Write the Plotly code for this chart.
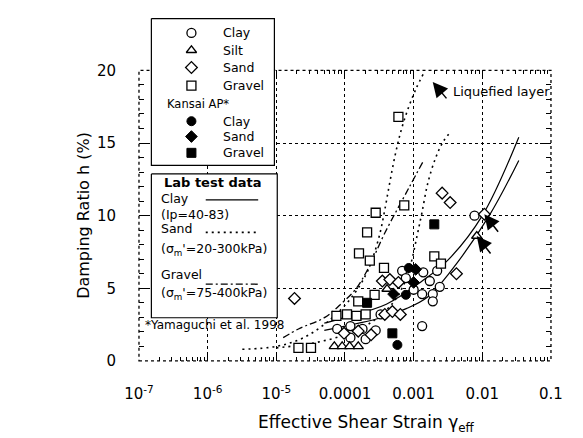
import math
import plotly.graph_objects as go

FONT = "DejaVu Sans, Arial, sans-serif"
W, H = 583, 438

# ---- field data: effective shear strain (-) and damping ratio h (%) ----
clay_strain = [7.7e-3, 1.33e-3, 6.8e-4, 7.7e-4, 1.38e-3, 1.0e-3, 1.33e-3, 1.9e-3, 2.4e-3,
               1.9e-3, 1.72e-3, 2.2e-3, 3.3e-4, 7.7e-5, 1.2e-4, 1.8e-4, 2.8e-4, 1.2e-4, 2.0e-4]
clay_damping = [10.0, 2.4, 6.2, 5.7, 6.1, 4.9, 4.6, 4.6, 5.1,
                4.1, 5.5, 6.2, 3.2, 2.2, 2.4, 2.2, 2.1, 1.6, 1.5]

silt_strain = [7.0e-5, 9.1e-5, 1.17e-4, 1.56e-4, 4.1e-4, 8.3e-3]
silt_damping = [1.0, 1.0, 1.0, 1.0, 4.95, 8.6]

sand_strain = [1.84e-5, 2.6e-3, 3.4e-3, 3.5e-4, 4.5e-4, 6.0e-4, 3.8e-4, 4.9e-4, 6.4e-4,
               4.2e-3, 9.7e-5, 1.56e-4, 2.4e-4, 1.07e-2]
sand_damping = [4.3, 11.55, 10.9, 5.5, 5.6, 5.4, 3.2, 3.4, 3.2,
                6.0, 1.9, 2.05, 1.8, 10.1]

gravel_strain = [6.0e-4, 7.3e-4, 2.8e-4, 2.1e-4, 1.6e-4, 2.3e-4, 3.7e-4, 2.7e-4, 1.56e-4,
                 7.5e-5, 1.07e-4, 1.47e-4, 2.0e-4, 2.1e-5, 3.2e-5, 2.0e-3, 2.5e-3]
gravel_damping = [16.8, 10.7, 10.2, 8.85, 7.4, 6.9, 6.4, 4.55, 4.1,
                  3.1, 3.2, 3.1, 3.2, 0.9, 0.9, 7.2, 6.7]

kansai_clay_strain = [5.8e-4, 7.7e-4, 8.5e-4]
kansai_clay_damping = [1.1, 4.55, 6.4]
kansai_sand_strain = [5.1e-4, 1.07e-3, 1.0e-3]
kansai_sand_damping = [4.6, 6.3, 5.4]
kansai_gravel_strain = [2.0e-3, 2.1e-4, 4.9e-4]
kansai_gravel_damping = [9.4, 4.0, 1.9]

# samples from the liquefied layer (marked with arrows)
liquefied_strain = [sand_strain[-1], silt_strain[-1]]
liquefied_damping = [sand_damping[-1], silt_damping[-1]]

# ---- laboratory test curves (Yamaguchi et al. 1998) ----
clay_lab_a_strain = [5e-5, 1e-4, 4e-4, 1.33e-3, 3.1e-3, 1e-2, 3.4e-2]
clay_lab_a_damping = [2.6, 3.0, 3.9, 5.5, 6.9, 10.0, 15.4]
clay_lab_b_strain = [5e-5, 1e-4, 2.95e-4, 7.8e-4, 1.6e-3, 3.5e-3, 1.26e-2, 3.4e-2]
clay_lab_b_damping = [2.1, 2.4, 2.9, 3.6, 4.4, 6.2, 10.0, 13.8]

sand_lab_a_strain = [3.2e-6, 1e-5, 2.5e-5, 6.3e-5, 1.26e-4, 2.0e-4, 2.5e-4, 3.2e-4,
                     3.8e-4, 4.5e-4, 5.4e-4, 6.6e-4, 8.5e-4, 1.1e-3, 1.4e-3]
sand_lab_a_damping = [0.8, 1.0, 1.6, 2.9, 4.4, 5.9, 7.0, 8.7,
                      10.4, 12.3, 14.2, 15.9, 17.5, 18.8, 19.8]
sand_lab_b_strain = [1e-5, 3.2e-5, 1e-4, 2.5e-4, 5e-4, 7.1e-4, 8.9e-4, 1.12e-3,
                     1.32e-3, 1.62e-3, 2.1e-3, 2.7e-3, 3.5e-3]
sand_lab_b_damping = [0.9, 1.2, 1.8, 2.7, 4.0, 5.2, 6.5, 8.6,
                      10.2, 12.3, 14.0, 15.1, 15.8]

gravel_lab_strain = [1.26e-5, 2.1e-5, 5.1e-5, 9.1e-5, 1.41e-4, 2.2e-4, 3.8e-4, 8.5e-4, 1.4e-3]
gravel_lab_damping = [1.6, 2.2, 3.0, 4.0, 4.9, 6.4, 8.8, 11.9, 13.8]

x_tick_vals = [1e-7, 1e-6, 1e-5, 1e-4, 1e-3, 1e-2, 1e-1]
x_tick_text = ["10<sup>-7</sup>", "10<sup>-6</sup>", "10<sup>-5</sup>",
               "0.0001", "0.001", "0.01", "0.1"]
y_tick_vals = [0, 5, 10, 15, 20]

# plot area in page pixels
PL, PR, PT, PB = 130, 562, 64, 367

SOLID = dict(dash="solid", width=1.2)
DOTTED = dict(dash="2px,4px", width=1.6)
DASHDOT = dict(dash="7px,3px,2px,3px", width=1.3)

fig = go.Figure()

def curve(xs, ys, style):
    fig.add_trace(go.Scatter(x=xs, y=ys, mode="lines", line_shape="spline",
                             line=dict(color="black", **style),
                             hoverinfo="skip", showlegend=False, xaxis="x", yaxis="y"))

curve(clay_lab_a_strain, clay_lab_a_damping, SOLID)
curve(clay_lab_b_strain, clay_lab_b_damping, SOLID)
curve(sand_lab_a_strain, sand_lab_a_damping, DOTTED)
curve(sand_lab_b_strain, sand_lab_b_damping, DOTTED)
curve(gravel_lab_strain, gravel_lab_damping, DASHDOT)

OPEN = dict(size=9, color="white", line=dict(color="black", width=1.3))
FILLED = dict(size=9, color="black", line=dict(color="black", width=1))

series = [
    (clay_strain, clay_damping, "circle", OPEN),
    (silt_strain, silt_damping, "triangle-up", OPEN),
    (sand_strain, sand_damping, "diamond", OPEN),
    (gravel_strain, gravel_damping, "square", OPEN),
    (kansai_clay_strain, kansai_clay_damping, "circle", FILLED),
    (kansai_sand_strain, kansai_sand_damping, "diamond", FILLED),
    (kansai_gravel_strain, kansai_gravel_damping, "square", FILLED),
]
for xs, ys, sym, style in series:
    fig.add_trace(go.Scatter(x=xs, y=ys, mode="markers",
                             marker=dict(symbol=sym, **style),
                             showlegend=False, xaxis="x", yaxis="y"))

# ---- key boxes, drawn on a page-pixel overlay ----
def box(x0, y0, x1, y1):
    fig.add_trace(go.Scatter(x=[x0, x1, x1, x0, x0], y=[y0, y0, y1, y1, y0],
                             mode="lines", fill="toself", fillcolor="white",
                             line=dict(color="black", width=1.2),
                             hoverinfo="skip", showlegend=False, xaxis="x2", yaxis="y2"))

box(143, 10, 272, 163)
box(143, 172, 275, 322)

key_rows = [25, 43, 61, 80, 117, 133, 150]
key_labels = ["Clay", "Silt", "Sand", "Gravel", "Clay", "Sand", "Gravel"]
for (xs, ys, sym, style), row, label in zip(series, key_rows, key_labels):
    fig.add_trace(go.Scatter(x=[185], y=[row], mode="markers",
                             marker=dict(symbol=sym, **style),
                             hoverinfo="skip", showlegend=False, xaxis="x2", yaxis="y2"))

# line samples for the laboratory curves
for y0, style in [(199, SOLID), (233, DOTTED), (287, DASHDOT)]:
    fig.add_trace(go.Scatter(x=[200, 255], y=[y0, y0], mode="lines",
                             line=dict(color="black", **style),
                             hoverinfo="skip", showlegend=False, xaxis="x2", yaxis="y2"))

annotations = []

def text(x, y, s, size=12.5, xanchor="left", bold=False, angle=0):
    annotations.append(dict(x=x, y=y, xref="x2", yref="y2", text=s, showarrow=False,
                            xanchor=xanchor, yanchor="middle", textangle=angle,
                            font=dict(family=FONT, size=size, color="black",
                                      weight="bold" if bold else "normal")))

for row, label in zip(key_rows, key_labels):
    text(216, row, label)
text(192, 99, "Kansai AP*", size=11.5, xanchor="center")

text(154, 181, "Lab test data", size=13, bold=True)
text(151, 198, "Clay")
text(151, 214, "(Ip=40-83)")
text(151, 229, "Sand")
text(151, 251, "(σ<sub>m</sub>'=20-300kPa)")
text(151, 277, "Gravel")
text(151, 297, "(σ<sub>m</sub>'=75-400kPa)")
text(134, 330, "*Yamaguchi et al. 1998", size=12)
text(457, 86, "Liquefied layer", size=13)

# axis titles
text(71, 215, "Damping Ratio h (%)", size=16, xanchor="center", angle=-90)
text(369, 432, "Effective Shear Strain γ<sub>eff</sub>", size=17, xanchor="center")

arrow_style = dict(showarrow=True, arrowhead=2, arrowsize=2.0, arrowwidth=1.5,
                   arrowcolor="black", text="", standoff=0)
for xs, ys in zip(liquefied_strain, liquefied_damping):
    annotations.append(dict(x=math.log10(xs), y=ys, xref="x", yref="y",
                            ax=15, ay=19, **arrow_style))
annotations.append(dict(x=438, y=76, xref="x2", yref="y2", ax=15, ay=18, **arrow_style))

tick_font = dict(family=FONT, size=15, color="black")

fig.update_layout(
    width=W, height=H,
    margin=dict(l=0, r=0, t=0, b=0),
    paper_bgcolor="white", plot_bgcolor="rgba(0,0,0,0)",
    font=dict(family=FONT, size=12.5, color="black"),
    showlegend=False,
    xaxis=dict(type="log", domain=[PL / W, PR / W], range=[-7, -1],
               tickvals=x_tick_vals, ticktext=x_tick_text, tickfont=tick_font,
               ticks="inside", ticklen=8, tickwidth=1, tickcolor="black",
               ticklabelstandoff=22, mirror="allticks", showline=False,
               showgrid=True, gridcolor="black", griddash="dot", gridwidth=1,
               zeroline=False,
               minor=dict(ticks="inside", ticklen=4, tickcolor="black", dtick="D1",
                          showgrid=False)),
    yaxis=dict(domain=[(H - PB) / H, (H - PT) / H], range=[0, 20],
               tickvals=y_tick_vals, tickfont=tick_font,
               ticks="inside", ticklen=11, tickwidth=1, tickcolor="black",
               ticklabelstandoff=22, mirror="allticks", showline=False,
               showgrid=True, gridcolor="black", griddash="dot", gridwidth=1,
               zeroline=False,
               minor=dict(ticks="inside", ticklen=5, tickcolor="black", dtick=1,
                          showgrid=False)),
    xaxis2=dict(domain=[0, 1], range=[0, W], anchor="y2", visible=False, fixedrange=True),
    yaxis2=dict(domain=[0, 1], range=[H, 0], anchor="x2", visible=False, fixedrange=True),
    annotations=annotations,
    shapes=[dict(type="rect", xref="x domain", yref="y domain", x0=0, x1=1, y0=0, y1=1,
                 line=dict(color="black", width=1.3, dash="dot"), layer="below")],
)

fig.write_html("out.html")
